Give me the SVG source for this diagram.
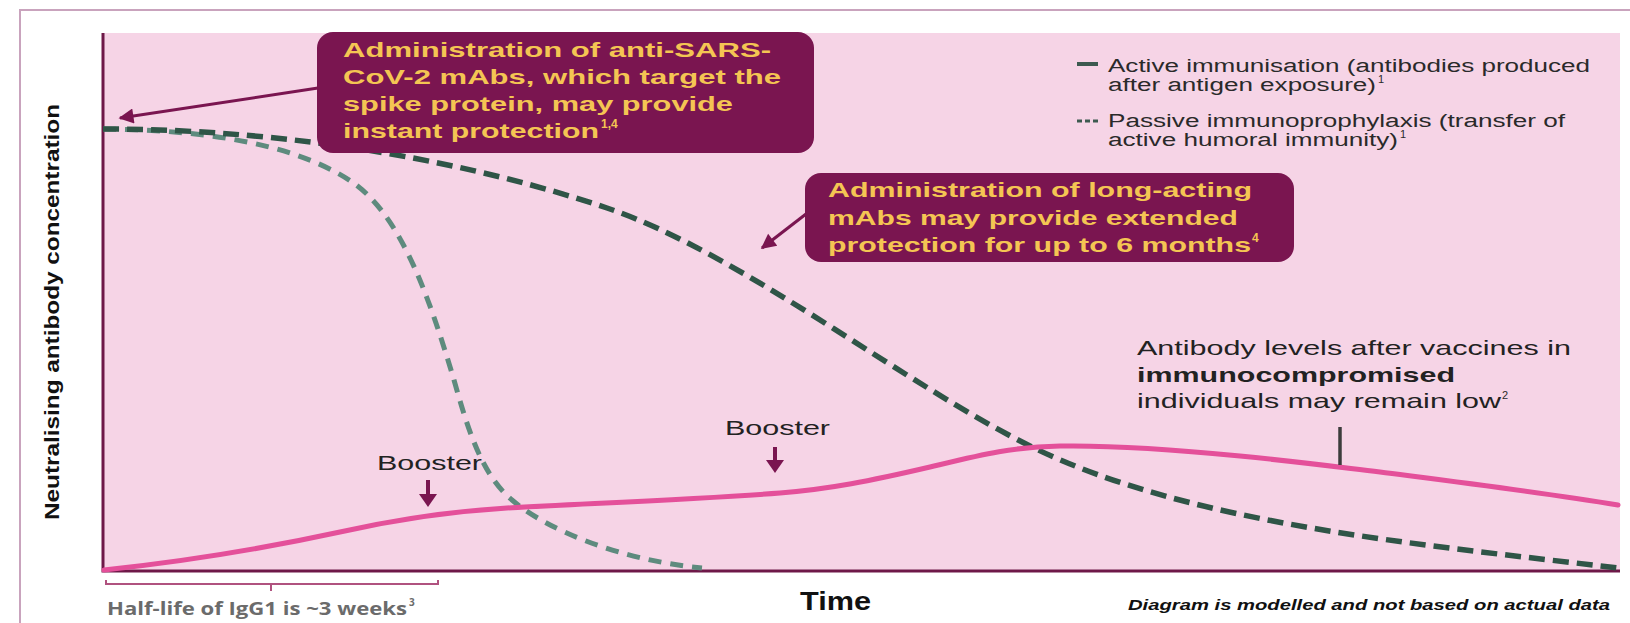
<svg xmlns="http://www.w3.org/2000/svg" width="1630" height="623" viewBox="0 0 1630 623">
<style>
.frame{stroke:#c9a3bd;stroke-width:2;fill:none}
.axis{stroke:#6e1848;stroke-width:3;fill:none}
.box{fill:#7a1550}
.bt{font-family:"Liberation Sans",Arial,sans-serif;font-weight:bold;font-size:21px;fill:#f4c553}
.bsup{font-family:"Liberation Sans",Arial,sans-serif;font-weight:bold;font-size:12px;fill:#f4c553}
.lt{font-family:"Liberation Sans",Arial,sans-serif;font-size:18px;fill:#2a2a2a}
.nt{font-family:"Liberation Sans",Arial,sans-serif;font-size:21px;fill:#222}
.sup{font-family:"Liberation Sans",Arial,sans-serif;font-size:11px;fill:#2a2a2a}
.dark{stroke:#2f5547;stroke-width:5.5;fill:none;stroke-dasharray:16 8}
.light{stroke:#5e8b7e;stroke-width:5;fill:none;stroke-dasharray:13 9}
.pink{stroke:#e4509a;stroke-width:5;fill:none;stroke-linecap:round}
.conn{stroke:#7a1550;stroke-width:3;fill:none}
.hd{fill:#7a1550}
</style>
<defs>
<marker id="ah" viewBox="0 0 10 10" refX="9" refY="5" markerUnits="userSpaceOnUse" markerWidth="22" markerHeight="15" orient="auto">
<path d="M0,0 L10,5 L0,10 Z" fill="#7a1550"/>
</marker>
</defs>
<rect width="1630" height="623" fill="#ffffff"/>
<g id="frame">
<line class="frame" x1="19" y1="10" x2="1630" y2="10"/>
<line class="frame" x1="20" y1="10" x2="20" y2="623"/>
</g>
<g id="plot">
<rect x="103" y="33" width="1517" height="538" fill="#f6d4e6"/>
<polyline class="axis" points="103,33 103,571 1620,571"/>
<text transform="translate(59,312) rotate(-90)" text-anchor="middle" font-family="Liberation Sans, Arial, sans-serif" font-weight="bold" font-size="20" fill="#111" textLength="416" lengthAdjust="spacingAndGlyphs">Neutralising antibody concentration</text>
<text x="800" y="610" font-family="Liberation Sans, Arial, sans-serif" font-weight="bold" font-size="25" fill="#111" textLength="71" lengthAdjust="spacingAndGlyphs">Time</text>
<text x="1128" y="610" font-family="Liberation Sans, Arial, sans-serif" font-weight="bold" font-style="italic" font-size="14" fill="#111" textLength="482" lengthAdjust="spacingAndGlyphs">Diagram is modelled and not based on actual data</text>
</g>
<g id="halflife">
<path d="M106,580 L106,584 L438,584 L438,580 M271,584 L271,591" stroke="#b0527f" stroke-width="2" fill="none"/>
<text x="107" y="615" font-family="Open Sans, Liberation Sans, sans-serif" font-weight="bold" font-size="17" fill="#6b6b6b" textLength="300" lengthAdjust="spacingAndGlyphs">Half-life of IgG1 is ~3 weeks</text>
<text x="409" y="606" font-family="Open Sans, Liberation Sans, sans-serif" font-weight="bold" font-size="10" fill="#6b6b6b">3</text>
</g>
<g id="curves">
<path class="light" d="M103,129 C220,130 302,148 352,182 C402,216 430,300 454,380 C468,430 482,475 512,500 C547,530 620,560 702,568"/>
<path class="dark" d="M103,129 C300,129 480,165 607,208 C740,253 902,383 1032,447 C1192,525 1418,544 1618,568"/>
<path class="pink" d="M104,570 C200,560 280,545 340,532 C380,523 440,512 507,508 C600,503 700,499 780,493 C830,489 870,481 930,467 C980,455 1010,447 1060,446 C1120,445 1180,450 1240,456 C1300,462 1330,466 1380,472 C1450,481 1540,492 1618,505"/>
</g>
<g id="legend">
<line x1="1077" y1="64" x2="1098" y2="64" stroke="#3d5a50" stroke-width="4"/>
<line x1="1077" y1="121" x2="1098" y2="121" stroke="#3d5a50" stroke-width="3" stroke-dasharray="5 3"/>
<text class="lt" x="1108" y="72" textLength="482" lengthAdjust="spacingAndGlyphs">Active immunisation (antibodies produced</text>
<text class="lt" x="1108" y="91" textLength="268" lengthAdjust="spacingAndGlyphs">after antigen exposure)</text>
<text class="sup" x="1378" y="83">1</text>
<text class="lt" x="1108" y="127" textLength="457" lengthAdjust="spacingAndGlyphs">Passive immunoprophylaxis (transfer of</text>
<text class="lt" x="1108" y="146" textLength="290" lengthAdjust="spacingAndGlyphs">active humoral immunity)</text>
<text class="sup" x="1400" y="138">1</text>
</g>
<g id="box1">
<rect class="box" x="317" y="32" width="497" height="121" rx="16"/>
<text class="bt" x="343" y="57" textLength="428" lengthAdjust="spacingAndGlyphs">Administration of anti-SARS-</text>
<text class="bt" x="343" y="84" textLength="438" lengthAdjust="spacingAndGlyphs">CoV-2 mAbs, which target the</text>
<text class="bt" x="343" y="111" textLength="390" lengthAdjust="spacingAndGlyphs">spike protein, may provide</text>
<text class="bt" x="343" y="138" textLength="256" lengthAdjust="spacingAndGlyphs">instant protection</text>
<text class="bsup" x="601" y="128">1,4</text>
</g>
<g id="box2">
<rect class="box" x="805" y="173" width="489" height="89" rx="16"/>
<text class="bt" x="828" y="197" textLength="424" lengthAdjust="spacingAndGlyphs">Administration of long-acting</text>
<text class="bt" x="828" y="225" textLength="410" lengthAdjust="spacingAndGlyphs">mAbs may provide extended</text>
<text class="bt" x="828" y="252" textLength="423" lengthAdjust="spacingAndGlyphs">protection for up to 6 months</text>
<text class="bsup" x="1252" y="242">4</text>
</g>
<g id="note-immuno">
<text class="nt" x="1137" y="355" textLength="434" lengthAdjust="spacingAndGlyphs">Antibody levels after vaccines in</text>
<text class="nt" x="1137" y="382" font-weight="bold" textLength="318" lengthAdjust="spacingAndGlyphs">immunocompromised</text>
<text class="nt" x="1137" y="408" textLength="364" lengthAdjust="spacingAndGlyphs">individuals may remain low</text>
<text class="sup" x="1502" y="399">2</text>
<line x1="1340" y1="427" x2="1340" y2="465" stroke="#3c3c3c" stroke-width="3.5"/>
</g>
<g id="booster1">
<text class="nt" x="377" y="470" textLength="105" lengthAdjust="spacingAndGlyphs">Booster</text>
<line x1="428" y1="480" x2="428" y2="497" stroke="#7a1550" stroke-width="4"/>
<polygon class="hd" points="419,494 437,494 428,507"/>
</g>
<g id="booster2">
<text class="nt" x="725" y="435" textLength="105" lengthAdjust="spacingAndGlyphs">Booster</text>
<line x1="775" y1="447" x2="775" y2="463" stroke="#7a1550" stroke-width="4"/>
<polygon class="hd" points="766,460 784,460 775,473"/>
</g>
<g id="connectors">
<line class="conn" x1="318" y1="88" x2="120" y2="118" marker-end="url(#ah)"/>
<line class="conn" x1="806" y1="214" x2="762" y2="248" marker-end="url(#ah)"/>
</g>
</svg>
